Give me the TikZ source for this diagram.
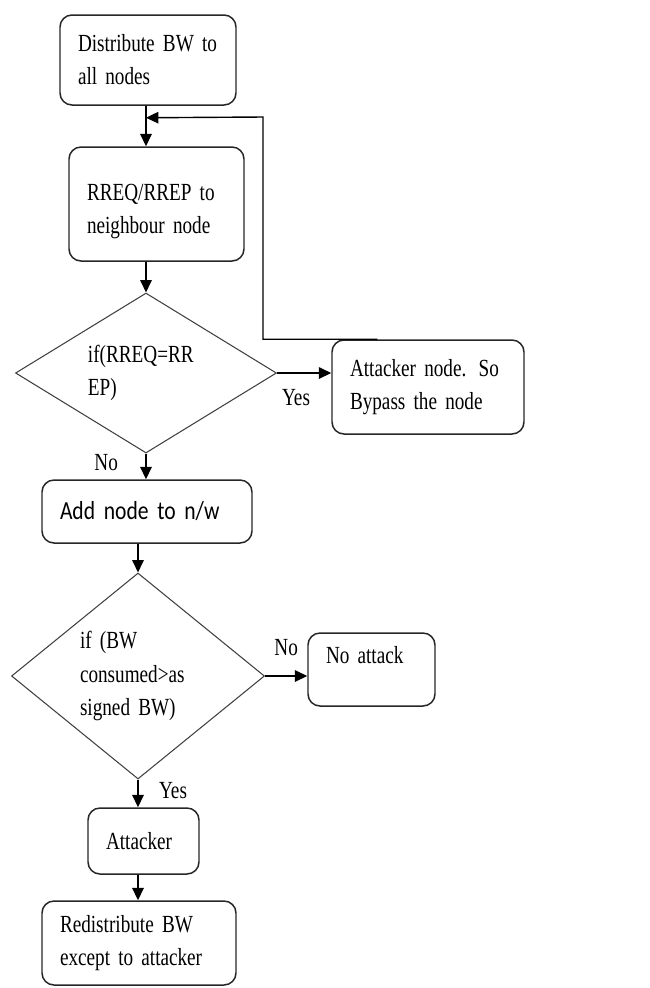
\documentclass[tikz,border=0pt]{standalone}
\usepackage{fontspec}
\setmainfont{Liberation Serif}[FakeStretch=0.78,WordSpace=0.55]
\newfontfamily\addfont{Carlito}[FakeStretch=0.83,WordSpace=0.8]
\usepackage{tikz}
\usetikzlibrary{arrows.meta,shapes.geometric}

\begin{document}
\begin{tikzpicture} [->, >={Triangle[length=7pt,width=6.5pt]}, line width=0.8pt, font=\fontsize{14}{18.8}\selectfont,
  main node/.style={rectangle,rounded corners=0.24cm,draw=black!85,line width=0.85pt,align=left,inner xsep=0.36cm,inner ysep=0pt},
  test node/.style={diamond,draw=black!75,line width=0.6pt,align=left,inner sep=0pt,text width=2.32cm}]
\useasboundingbox (0,0) rectangle (13,-19.76);
\node[main node, text width=2.80cm, minimum height=1.80cm] (1) at (2.96,-1.20) {Distribute BW to\\all nodes}; % start box
\node[main node, text width=2.78cm, minimum height=2.28cm, text depth=0.45cm] (2) at (3.13,-4.08) {RREQ/RREP to\\neighbour node};
\node[test node, minimum width=5.22cm, minimum height=3.20cm, aspect=1.63] (3) at (2.92,-7.46) {if(RREQ=RR\\EP)}; % first check
\node[main node, text width=3.12cm, minimum height=1.88cm] (4) at (8.56,-7.74) {Attacker node. So\\Bypass the node};
\node[main node, text width=3.48cm, minimum height=1.26cm, font=\addfont\fontsize{14.8}{18}\selectfont] (5) at (2.94,-10.23) {Add node to n/w};
\node[test node, minimum width=5.06cm, minimum height=4.12cm, aspect=1.23] (6) at (2.76,-13.52) {if (BW\\consumed>as\\signed BW)}; % second check
\node[main node, text width=1.82cm, minimum height=1.46cm, text depth=0.57cm] (7) at (7.43,-13.39) {No attack};
\node[main node, text width=1.50cm, minimum height=1.32cm] (8) at (2.87,-16.82) {Attacker};
\node[main node, text width=3.16cm, minimum height=1.68cm] (9) at (2.78,-18.86) {Redistribute BW\\except to attacker};

\path
(1.south -| 3.north) edge (2.north -| 3.north)
(2.south -| 3.north) edge (3.north)
(3.east) edge node [below=0.2cm, pos=0.35] {Yes} (3.east -| 4.west) % attacker found, go round
(3.south) edge node [left=0.43cm, pos=0.37] {No} (5.north -| 3.south)
(5.south -| 6.north) edge (6.north)
(6.east) edge node [above=0.27cm] {No} (6.east -| 7.west)
(6.south) edge node [right=0.29cm, pos=0.38] {Yes} (8.north -| 6.south)
(8.south -| 6.south) edge (9.north -| 6.south);
\draw ([xshift=0.92cm]4.north west) -| (5.26,-2.34) -- ([yshift=-0.24cm]1.south -| 3.north); % back to route request
\end{tikzpicture}
\end{document}
